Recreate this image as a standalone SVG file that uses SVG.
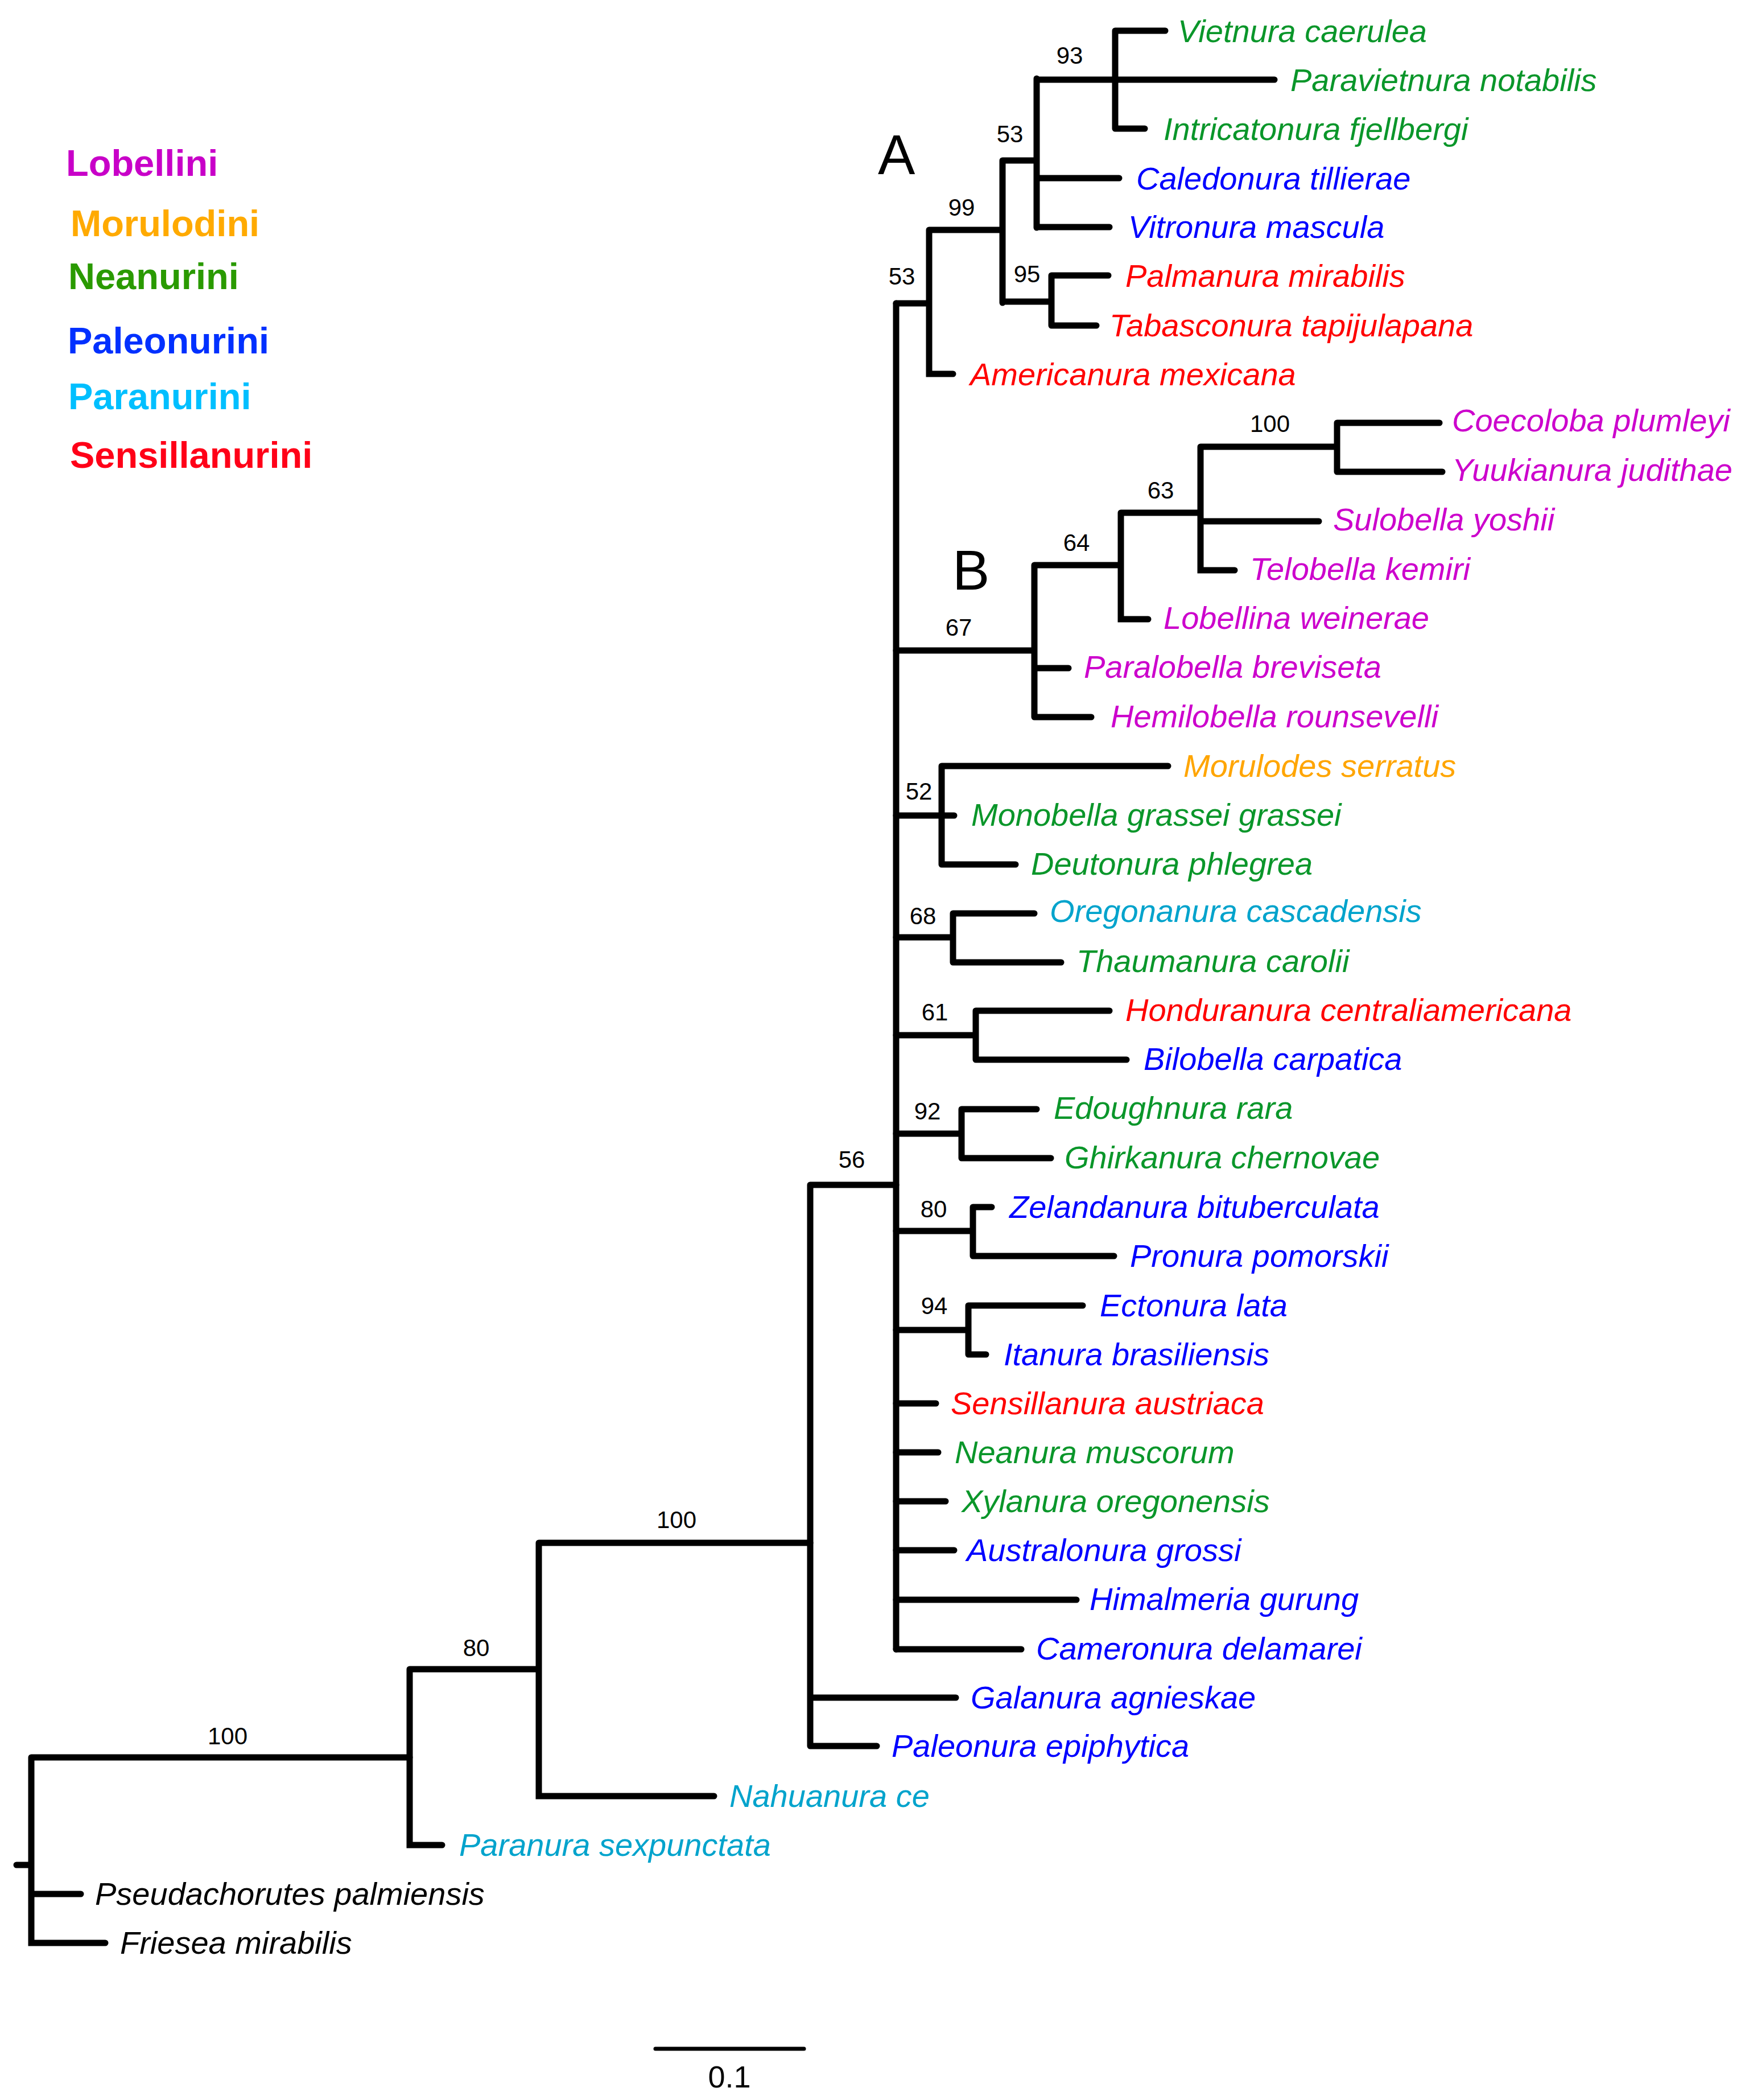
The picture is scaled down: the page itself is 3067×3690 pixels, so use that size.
<svg xmlns="http://www.w3.org/2000/svg" width="3067" height="3690" viewBox="0 0 3067 3690">
<style>
.br{fill:none;stroke:#000;stroke-width:11;stroke-linecap:round;stroke-linejoin:miter}
.tip{font-family:"Liberation Sans",Arial,sans-serif;font-style:italic;font-size:56px}
.sup{font-family:"Liberation Sans",Arial,sans-serif;font-size:42px;fill:#000;text-anchor:middle}
.leg{font-family:"Liberation Sans",Arial,sans-serif;font-weight:bold;font-size:65px}
.cl{font-family:"Liberation Sans",Arial,sans-serif;font-size:98px;fill:#000}
.g{fill:#0A962A}.b{fill:#0000FF}.r{fill:#FF0000}.m{fill:#CC00CC}.o{fill:#FFA500}.c{fill:#00A3CC}.k{fill:#000}
</style>
<rect width="3067" height="3690" fill="#fff"/>
<g id="legend">
<text class="leg" x="116" y="309" fill="#C800C8">Lobellini</text>
<text class="leg" x="124" y="415" fill="#FFAA00">Morulodini</text>
<text class="leg" x="120" y="508" fill="#2A9A00">Neanurini</text>
<text class="leg" x="119" y="621" fill="#0030FF">Paleonurini</text>
<text class="leg" x="120" y="719" fill="#00BFFF">Paranurini</text>
<text class="leg" x="123" y="822" fill="#FF0018">Sensillanurini</text>
</g>
<g id="clade-labels">
<text class="cl" x="1543" y="306">A</text>
<text class="cl" x="1674" y="1036">B</text>
</g>
<g id="branches">
<path class="br" d="M1575,533 H1633 M1633,404 V657 H1675 M1633,404 H1762 M1762,282 V532 M1762,282 H1822 M1822,138 V400 M1822,140 H2240 M1960,54 V226 M1960,54 H2048 M1960,226 H2012 M1822,313 H1967 M1822,399 H1950 M1762,530 H1848 M1848,484 V572 M1848,484 H1948 M1848,572 H1927"/>
<path class="br" d="M1575,1143 H1818 M1818,993 V1260 M1818,1174 H1878 M1818,1260 H1918 M1818,993 H1970 M1970,901 V1088 H2018 M1970,901 H2110 M2110,785 V1002 H2170 M2110,916 H2318 M2110,785 H2350 M2350,743 V829 M2350,743 H2530 M2350,829 H2535"/>
<path class="br" d="M1575,533 V2898"/>
<path class="br" d="M1575,1433 H1677 M1655,1346 V1519 M1655,1346 H2053 M1655,1519 H1785"/>
<path class="br" d="M1575,1647 H1675 M1675,1605 V1691 M1675,1605 H1818 M1675,1691 H1865"/>
<path class="br" d="M1575,1819 H1715 M1715,1776 V1862 M1715,1776 H1950 M1715,1862 H1980"/>
<path class="br" d="M1575,1992 H1690 M1690,1949 V2035 M1690,1949 H1822 M1690,2035 H1847"/>
<path class="br" d="M1575,2163 H1710 M1710,2121 V2207 M1710,2121 H1743 M1710,2207 H1958"/>
<path class="br" d="M1575,2337 H1702 M1702,2294 V2380 M1702,2294 H1903 M1702,2380 H1733"/>
<path class="br" d="M1575,2466 H1645 M1575,2552 H1649 M1575,2638 H1662 M1575,2724 H1677 M1575,2811 H1892 M1575,2898 H1795"/>
<path class="br" d="M1424,2082 H1575 M1424,2082 V3068 M1424,2983 H1680 M1424,3068 H1541"/>
<path class="br" d="M947,2711 H1424 M947,2711 V3156 H1255 M720,2933 H947 M720,2933 V3242 H777"/>
<path class="br" d="M55,3088 H720 M55,3088 V3414 H185 M55,3328 H142 M29,3277 H55"/>
</g>
<g id="supports">
<text class="sup" x="1880" y="112">93</text>
<text class="sup" x="1775" y="250">53</text>
<text class="sup" x="1690" y="379">99</text>
<text class="sup" x="1585" y="500">53</text>
<text class="sup" x="1805" y="496">95</text>
<text class="sup" x="2232" y="759">100</text>
<text class="sup" x="2040" y="876">63</text>
<text class="sup" x="1892" y="968">64</text>
<text class="sup" x="1685" y="1117">67</text>
<text class="sup" x="1615" y="1405">52</text>
<text class="sup" x="1622" y="1624">68</text>
<text class="sup" x="1643" y="1793">61</text>
<text class="sup" x="1630" y="1967">92</text>
<text class="sup" x="1497" y="2052">56</text>
<text class="sup" x="1641" y="2139">80</text>
<text class="sup" x="1642" y="2309">94</text>
<text class="sup" x="1189" y="2685">100</text>
<text class="sup" x="837" y="2910">80</text>
<text class="sup" x="400" y="3065">100</text>
</g>
<g id="tips">
<g id="t01"><text class="tip g" x="2070" y="74">Vietnura caerulea</text></g>
<g id="t02"><text class="tip g" x="2268" y="160">Paravietnura notabilis</text></g>
<g id="t03"><text class="tip g" x="2045" y="246">Intricatonura fjellbergi</text></g>
<g id="t04"><text class="tip b" x="1997" y="333">Caledonura tillierae</text></g>
<g id="t05"><text class="tip b" x="1983" y="418">Vitronura mascula</text></g>
<g id="t06"><text class="tip r" x="1978" y="504">Palmanura mirabilis</text></g>
<g id="t07"><text class="tip r" x="1950" y="591">Tabasconura tapijulapana</text></g>
<g id="t08"><text class="tip r" x="1705" y="677">Americanura mexicana</text></g>
<g id="t09"><text class="tip m" x="2552" y="758">Coecoloba plumleyi</text></g>
<g id="t10"><text class="tip m" x="2552" y="845">Yuukianura judithae</text></g>
<g id="t11"><text class="tip m" x="2343" y="932">Sulobella yoshii</text></g>
<g id="t12"><text class="tip m" x="2197" y="1019">Telobella kemiri</text></g>
<g id="t13"><text class="tip m" x="2045" y="1105">Lobellina weinerae</text></g>
<g id="t14"><text class="tip m" x="1905" y="1191">Paralobella breviseta</text></g>
<g id="t15"><text class="tip m" x="1952" y="1278">Hemilobella rounsevelli</text></g>
<g id="t16"><text class="tip o" x="2080" y="1365">Morulodes serratus</text></g>
<g id="t17"><text class="tip g" x="1707" y="1451">Monobella grassei grassei</text></g>
<g id="t18"><text class="tip g" x="1812" y="1537">Deutonura phlegrea</text></g>
<g id="t19"><text class="tip c" x="1845" y="1620">Oregonanura cascadensis</text></g>
<g id="t20"><text class="tip g" x="1892" y="1708">Thaumanura carolii</text></g>
<g id="t21"><text class="tip r" x="1978" y="1794">Honduranura centraliamericana</text></g>
<g id="t22"><text class="tip b" x="2010" y="1880">Bilobella carpatica</text></g>
<g id="t23"><text class="tip g" x="1852" y="1966">Edoughnura rara</text></g>
<g id="t24"><text class="tip g" x="1871" y="2053">Ghirkanura chernovae</text></g>
<g id="t25"><text class="tip b" x="1774" y="2140">Zelandanura bituberculata</text></g>
<g id="t26"><text class="tip b" x="1986" y="2226">Pronura pomorskii</text></g>
<g id="t27"><text class="tip b" x="1933" y="2313">Ectonura lata</text></g>
<g id="t28"><text class="tip b" x="1764" y="2399">Itanura brasiliensis</text></g>
<g id="t29"><text class="tip r" x="1671" y="2485">Sensillanura austriaca</text></g>
<g id="t30"><text class="tip g" x="1678" y="2571">Neanura muscorum</text></g>
<g id="t31"><text class="tip g" x="1690" y="2657">Xylanura oregonensis</text></g>
<g id="t32"><text class="tip b" x="1699" y="2743">Australonura grossi</text></g>
<g id="t33"><text class="tip b" x="1915" y="2829">Himalmeria gurung</text></g>
<g id="t34"><text class="tip b" x="1821" y="2916">Cameronura delamarei</text></g>
<g id="t35"><text class="tip b" x="1706" y="3002">Galanura agnieskae</text></g>
<g id="t36"><text class="tip b" x="1567" y="3087">Paleonura epiphytica</text></g>
<g id="t37"><text class="tip c" x="1282" y="3175">Nahuanura ce</text></g>
<g id="t38"><text class="tip c" x="807" y="3261">Paranura sexpunctata</text></g>
<g id="t39"><text class="tip k" x="167" y="3347">Pseudachorutes palmiensis</text></g>
<g id="t40"><text class="tip k" x="211" y="3433">Friesea mirabilis</text></g>
</g>
<g id="scale">
<line x1="1152" y1="3600" x2="1413" y2="3600" stroke="#000" stroke-width="7" stroke-linecap="round"/>
<text x="1282" y="3668" font-family="Liberation Sans, Arial, sans-serif" font-size="54" text-anchor="middle" fill="#000">0.1</text>
</g>
</svg>
